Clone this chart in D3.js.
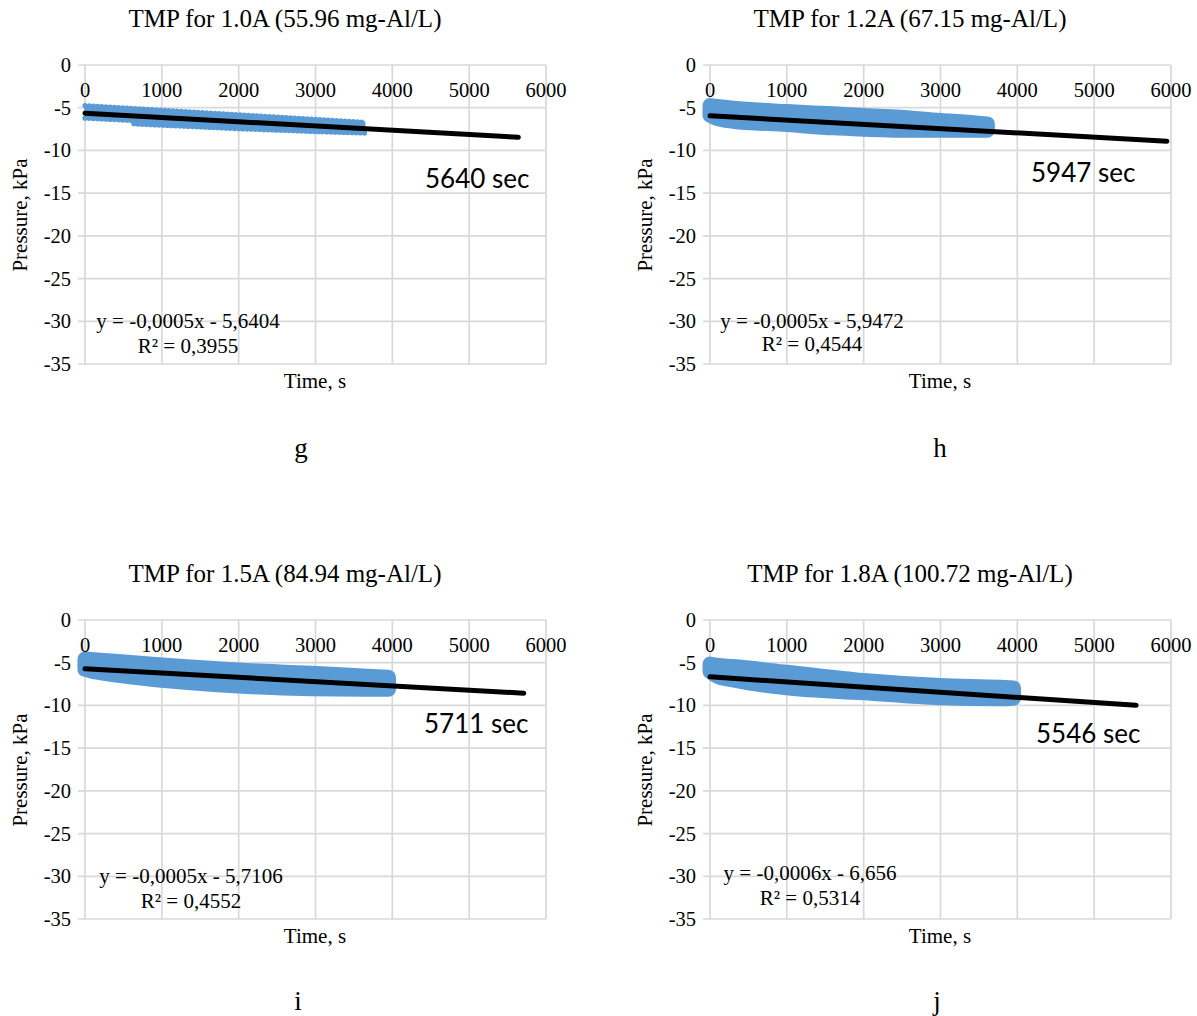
<!DOCTYPE html>
<html>
<head>
<meta charset="utf-8">
<script src="https://cdn.jsdelivr.net/npm/d3@7"></script>
<style>
  html, body { margin: 0; padding: 0; background: #ffffff; }
  svg { display: block; }
</style>
</head>
<body>
<script>
// ---- Chart data -------------------------------------------------------
const panelLetters = ["g", "h", "i", "j"];
const titles = [
  "TMP for 1.0A (55.96 mg-Al/L)",
  "TMP for 1.2A (67.15 mg-Al/L)",
  "TMP for 1.5A (84.94 mg-Al/L)",
  "TMP for 1.8A (100.72 mg-Al/L)"
];
const xTicks = [0, 1000, 2000, 3000, 4000, 5000, 6000];
const yTicks = [0, -5, -10, -15, -20, -25, -30, -35];

// Linear trendline fits (slope, intercept, R²) and extrapolated end time, s
const slopes = [-0.0005, -0.0005, -0.0005, -0.0006];
const intercepts = [-5.6404, -5.9472, -5.7106, -6.656];
const rSquared = ["0,3955", "0,4544", "0,4552", "0,5314"];
const endTimes = [5640, 5947, 5711, 5546];

// Recorded TMP readings: upper / lower envelope of the scatter, kPa
const timeG  = [0, 600, 640, 2000, 2950, 3640];
const upperG = [-4.75, -5.07, -5.09, -5.82, -6.33, -6.71];
const lowerG = [-6.22, -6.49, -6.90, -7.46, -7.78, -7.97];

const timeH  = [0, 90, 300, 1000, 1600, 2000, 2480, 3000, 3350, 3610];
const upperH = [-4.75, -4.85, -5.05, -5.45, -5.72, -5.92, -6.10, -6.50, -6.69, -6.89];
const lowerH = [-5.87, -6.26, -6.58, -6.97, -7.36, -7.51, -7.63, -7.63, -7.63, -7.63];

const timeI  = [0, 80, 340, 1000, 2000, 2950, 3800, 3950];
const upperI = [-4.57, -4.62, -4.80, -5.27, -5.86, -6.24, -6.64, -6.70];
const lowerI = [-5.77, -5.97, -6.36, -7.06, -7.73, -8.04, -8.11, -8.10];

const timeJ  = [0, 90, 300, 1000, 2000, 3000, 3780, 3950];
const upperJ = [-5.15, -5.30, -5.45, -6.12, -7.09, -7.68, -7.88, -7.95];
const lowerJ = [-6.02, -6.56, -7.03, -7.93, -8.52, -9.10, -9.22, -9.15];

const bandTimes = [timeG, timeH, timeI, timeJ];
const bandUpper = [upperG, upperH, upperI, upperJ];
const bandLower = [lowerG, lowerH, lowerI, lowerJ];

// ---- Layout & style ---------------------------------------------------
const W = 1197, H = 1016;
const plots = [
  { left: 85,  top: 65,  width: 461, height: 299 },
  { left: 710, top: 65,  width: 461, height: 299 },
  { left: 85,  top: 620, width: 461, height: 299 },
  { left: 710, top: 620, width: 461, height: 299 }
];
const eqOffset = [
  { x: 103, y1: 263, y2: 288 },
  { x: 102, y1: 263, y2: 286 },
  { x: 106, y1: 263, y2: 288 },
  { x: 100, y1: 260, y2: 285 }
];
const secOffset = [
  { x: 340, y: 123 },
  { x: 321, y: 117 },
  { x: 339, y: 113 },
  { x: 326, y: 123 }
];
const letterOffset = [
  { x: 216, y: 392 },
  { x: 230, y: 392 },
  { x: 213, y: 390 },
  { x: 227, y: 390 }
];
const serif = "'Liberation Serif', 'Times New Roman', serif";
const sans = "Lato, 'Open Sans', sans-serif";
const blue = "#5b9bd5";
const grid = "#d9d9d9";
const dotted = [true, false, false, false];   // small markers in the first panel

const fmt = v => String(v).replace(".", ",");

const svg = d3.select("body").append("svg")
  .attr("width", W).attr("height", H)
  .attr("viewBox", `0 0 ${W} ${H}`);

plots.forEach((p, k) => {
  const x = d3.scaleLinear().domain([0, 6000]).range([p.left, p.left + p.width]);
  const y = d3.scaleLinear().domain([0, -35]).range([p.top, p.top + p.height]);
  const g = svg.append("g");

  // gridlines
  g.append("g").selectAll("line.v").data(xTicks).join("line")
    .attr("x1", d => x(d)).attr("x2", d => x(d))
    .attr("y1", y(0)).attr("y2", y(-35))
    .attr("stroke", grid).attr("stroke-width", 1.7);
  g.append("g").selectAll("line.h").data(yTicks).join("line")
    .attr("x1", x(0) - 7).attr("x2", x(6000))
    .attr("y1", d => y(d)).attr("y2", d => y(d))
    .attr("stroke", grid).attr("stroke-width", 1.7);

  // scatter of readings
  const pts = bandTimes[k].map((t, i) => ({ t, hi: bandUpper[k][i], lo: bandLower[k][i] }));
  const area = d3.area()
    .x(d => x(d.t)).y0(d => y(d.lo)).y1(d => y(d.hi))
    .curve(dotted[k] ? d3.curveLinear : d3.curveMonotoneX);
  if (dotted[k]) {
    g.append("path").attr("d", area(pts)).attr("fill", blue).attr("stroke", blue)
      .attr("stroke-width", 1.5);
    const edge = key => d3.line().x(d => x(d.t)).y(d => y(d[key])).curve(d3.curveLinear)(pts);
    ["hi", "lo"].forEach(key => {
      g.append("path").attr("d", edge(key)).attr("fill", "none")
        .attr("stroke", blue).attr("stroke-width", 5.2)
        .attr("stroke-linecap", "round").attr("stroke-dasharray", "0 4.2");
    });
  } else {
    g.append("path").attr("d", area(pts))
      .attr("fill", blue).attr("stroke", blue)
      .attr("stroke-width", 15).attr("stroke-linejoin", "round");
  }

  // linear trendline
  const trend = [0, endTimes[k]].map(t => ({ t, v: slopes[k] * t + intercepts[k] }));
  g.append("path")
    .attr("d", d3.line().x(d => x(d.t)).y(d => y(d.v))(trend))
    .attr("fill", "none").attr("stroke", "#000").attr("stroke-width", 5)
    .attr("stroke-linecap", "round");

  // x tick labels (along the zero line)
  g.append("g").selectAll("text").data(xTicks).join("text")
    .attr("x", d => x(d)).attr("y", y(0) + 32)
    .attr("text-anchor", "middle")
    .attr("font-family", serif).attr("font-size", 20.5).attr("fill", "#000")
    .text(d => d);

  // y tick labels
  g.append("g").selectAll("text").data(yTicks).join("text")
    .attr("x", x(0) - 14).attr("y", d => y(d) + 7)
    .attr("text-anchor", "end")
    .attr("font-family", serif).attr("font-size", 20.5).attr("fill", "#000")
    .text(d => d);

  // title
  g.append("text")
    .attr("x", p.left + 200).attr("y", p.top - 38)
    .attr("text-anchor", "middle")
    .attr("font-family", serif).attr("font-size", 25).attr("fill", "#000")
    .text(titles[k]);

  // axis titles
  g.append("text")
    .attr("transform", `translate(${p.left - 58.5},${p.top + 150}) rotate(-90)`)
    .attr("text-anchor", "middle")
    .attr("font-family", serif).attr("font-size", 21).attr("fill", "#000")
    .text("Pressure, kPa");
  g.append("text")
    .attr("x", p.left + 230).attr("y", p.top + 323)
    .attr("text-anchor", "middle")
    .attr("font-family", serif).attr("font-size", 21).attr("fill", "#000")
    .text("Time, s");

  // trendline equation
  const eq = eqOffset[k];
  g.append("text")
    .attr("x", p.left + eq.x).attr("y", p.top + eq.y1)
    .attr("text-anchor", "middle")
    .attr("font-family", serif).attr("font-size", 21).attr("fill", "#000")
    .text(`y = ${fmt(slopes[k])}x - ${fmt(-intercepts[k])}`);
  g.append("text")
    .attr("x", p.left + eq.x).attr("y", p.top + eq.y2)
    .attr("text-anchor", "middle")
    .attr("font-family", serif).attr("font-size", 21).attr("fill", "#000")
    .text(`R² = ${rSquared[k]}`);

  // extrapolated time label
  const so = secOffset[k];
  g.append("text")
    .attr("x", p.left + so.x).attr("y", p.top + so.y)
    .attr("font-family", sans).attr("font-size", 26).attr("fill", "#000")
    .text(`${endTimes[k]} sec`);

  // panel letter
  const lo = letterOffset[k];
  g.append("text")
    .attr("x", p.left + lo.x).attr("y", p.top + lo.y)
    .attr("text-anchor", "middle")
    .attr("font-family", serif).attr("font-size", 27).attr("fill", "#000")
    .text(panelLetters[k]);
});
</script>
</body>
</html>
